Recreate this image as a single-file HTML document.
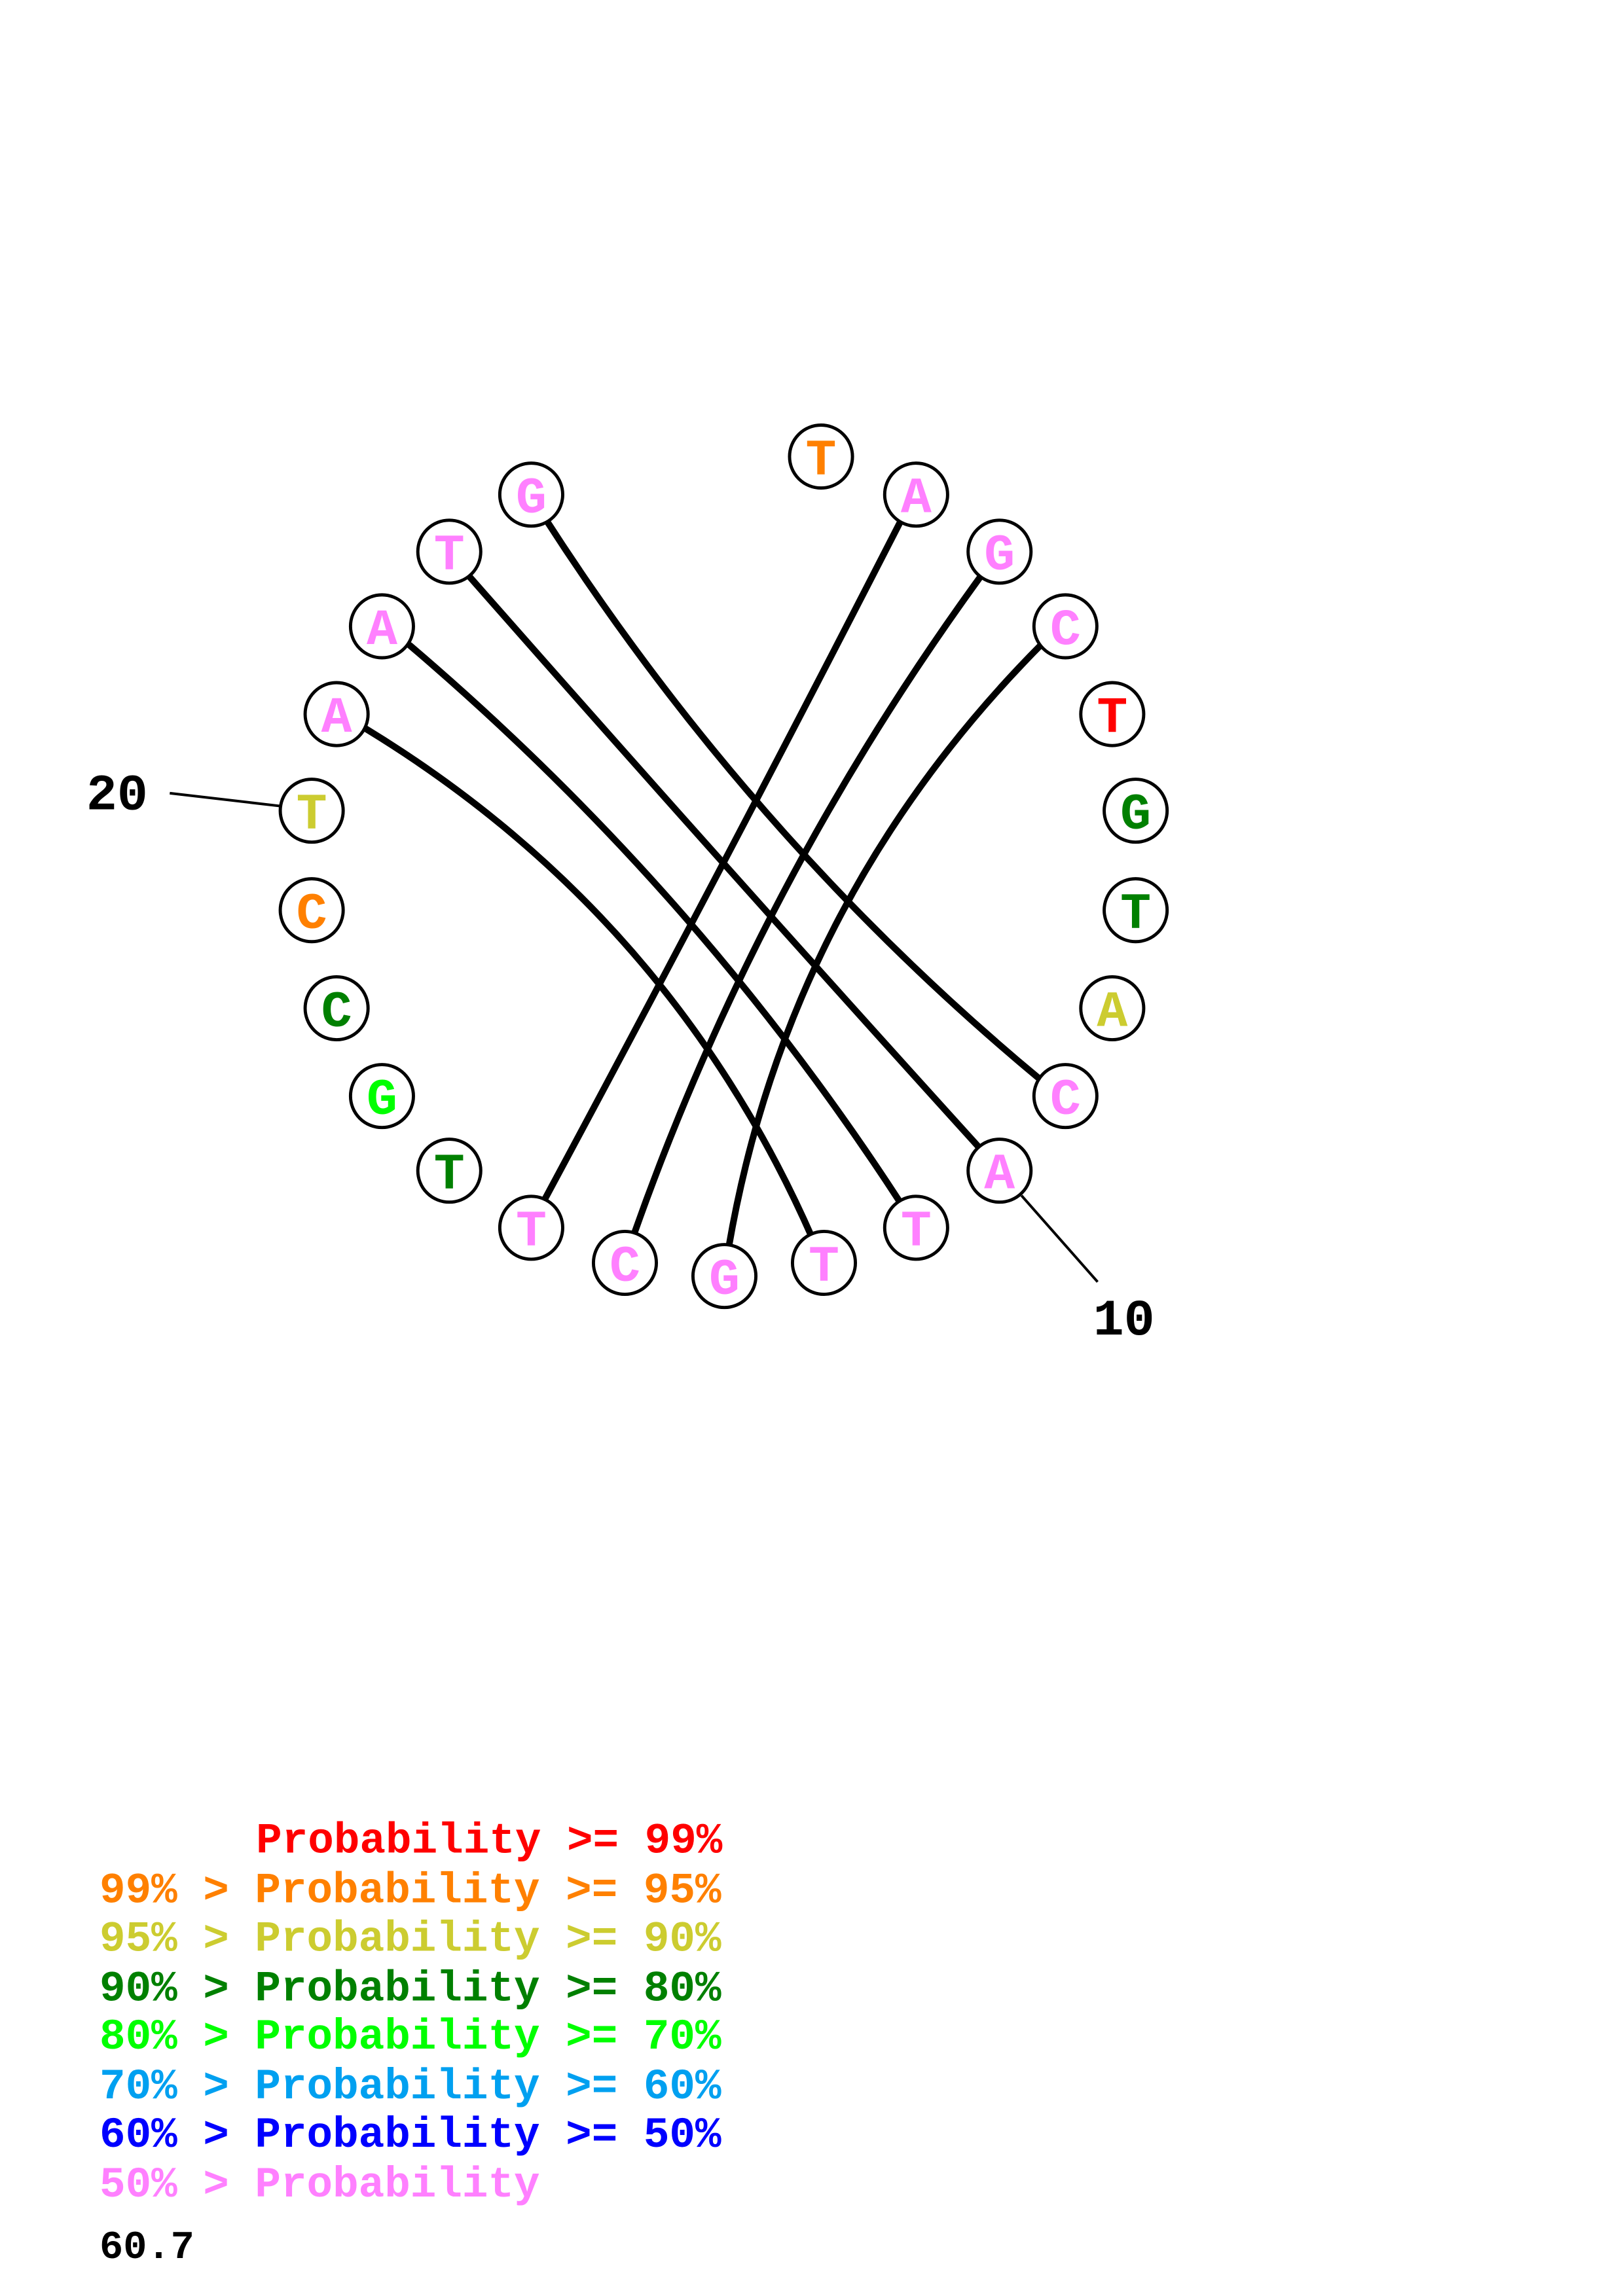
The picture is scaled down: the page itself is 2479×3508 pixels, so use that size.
<!DOCTYPE html>
<html><head><meta charset="utf-8"><style>html,body{margin:0;padding:0;background:#fff}svg{display:block}</style></head>
<body>
<svg width="2479" height="3508" viewBox="0 0 1109 1569" preserveAspectRatio="none" xmlns="http://www.w3.org/2000/svg" font-family="'Liberation Mono', monospace" font-weight="bold">
<g fill="none" stroke="#000" stroke-width="4.5" stroke-linecap="round">
<path d="M373,355 Q514,574 710,737"/>
<path d="M319,392 Q494,591 668,783"/>
<path d="M280,441 Q476,608 614,820"/>
<path d="M250,498 Q458,625 555,846"/>
<path d="M616,355 Q495,591 372,820"/>
<path d="M670,394 Q518,603 433,844"/>
<path d="M712,440 Q539,614 498,852"/>
</g>
<g stroke="#000" stroke-width="1.8">
<line x1="116" y1="542" x2="193" y2="551"/>
<line x1="698" y1="817" x2="750" y2="876"/>
</g>
<g fill="#fff" stroke="#000" stroke-width="2.2">
<circle cx="561" cy="312" r="21.5"/><circle cx="626" cy="338" r="21.5"/><circle cx="683" cy="377" r="21.5"/><circle cx="728" cy="428" r="21.5"/><circle cx="760" cy="488" r="21.5"/><circle cx="776" cy="554" r="21.5"/><circle cx="776" cy="622" r="21.5"/><circle cx="760" cy="689" r="21.5"/><circle cx="728" cy="749" r="21.5"/><circle cx="683" cy="800" r="21.5"/><circle cx="626" cy="839" r="21.5"/><circle cx="563" cy="863" r="21.5"/><circle cx="495" cy="872" r="21.5"/><circle cx="427" cy="863" r="21.5"/><circle cx="363" cy="839" r="21.5"/><circle cx="307" cy="800" r="21.5"/><circle cx="261" cy="749" r="21.5"/><circle cx="230" cy="689" r="21.5"/><circle cx="213" cy="622" r="21.5"/><circle cx="213" cy="554" r="21.5"/><circle cx="230" cy="488" r="21.5"/><circle cx="261" cy="428" r="21.5"/><circle cx="307" cy="377" r="21.5"/><circle cx="363" cy="338" r="21.5"/>
</g>
<g font-size="35" text-anchor="middle">
<text x="561" y="324" fill="#ff8000">T</text>
<text x="626" y="350" fill="#ff80ff">A</text>
<text x="683" y="389" fill="#ff80ff">G</text>
<text x="728" y="440" fill="#ff80ff">C</text>
<text x="760" y="500" fill="#ff0000">T</text>
<text x="776" y="566" fill="#008000">G</text>
<text x="776" y="634" fill="#008000">T</text>
<text x="760" y="701" fill="#cccc30">A</text>
<text x="728" y="761" fill="#ff80ff">C</text>
<text x="683" y="812" fill="#ff80ff">A</text>
<text x="626" y="851" fill="#ff80ff">T</text>
<text x="563" y="875" fill="#ff80ff">T</text>
<text x="495" y="884" fill="#ff80ff">G</text>
<text x="427" y="875" fill="#ff80ff">C</text>
<text x="363" y="851" fill="#ff80ff">T</text>
<text x="307" y="812" fill="#008000">T</text>
<text x="261" y="761" fill="#00ff00">G</text>
<text x="230" y="701" fill="#008000">C</text>
<text x="213" y="634" fill="#ff8000">C</text>
<text x="213" y="566" fill="#cccc30">T</text>
<text x="230" y="500" fill="#ff80ff">A</text>
<text x="261" y="440" fill="#ff80ff">A</text>
<text x="307" y="389" fill="#ff80ff">T</text>
<text x="363" y="350" fill="#ff80ff">G</text>
</g>
<g font-size="35" fill="#000">
<text x="59" y="553">20</text>
<text x="747" y="912">10</text>
</g>
<g font-size="29.5">
<text x="175" y="1266" fill="#ff0000">Probability &gt;= 99%</text>
<text x="68" y="1300" fill="#ff8000">99% &gt; Probability &gt;= 95%</text>
<text x="68" y="1333" fill="#cccc30">95% &gt; Probability &gt;= 90%</text>
<text x="68" y="1367" fill="#008000">90% &gt; Probability &gt;= 80%</text>
<text x="68" y="1400" fill="#00ff00">80% &gt; Probability &gt;= 70%</text>
<text x="68" y="1434" fill="#00a0f0">70% &gt; Probability &gt;= 60%</text>
<text x="68" y="1467" fill="#0000ff">60% &gt; Probability &gt;= 50%</text>
<text x="68" y="1501" fill="#ff80ff">50% &gt; Probability</text>
<text x="68" y="1543" fill="#000" font-size="27">60.7</text>
</g>
</svg>
</body></html>
